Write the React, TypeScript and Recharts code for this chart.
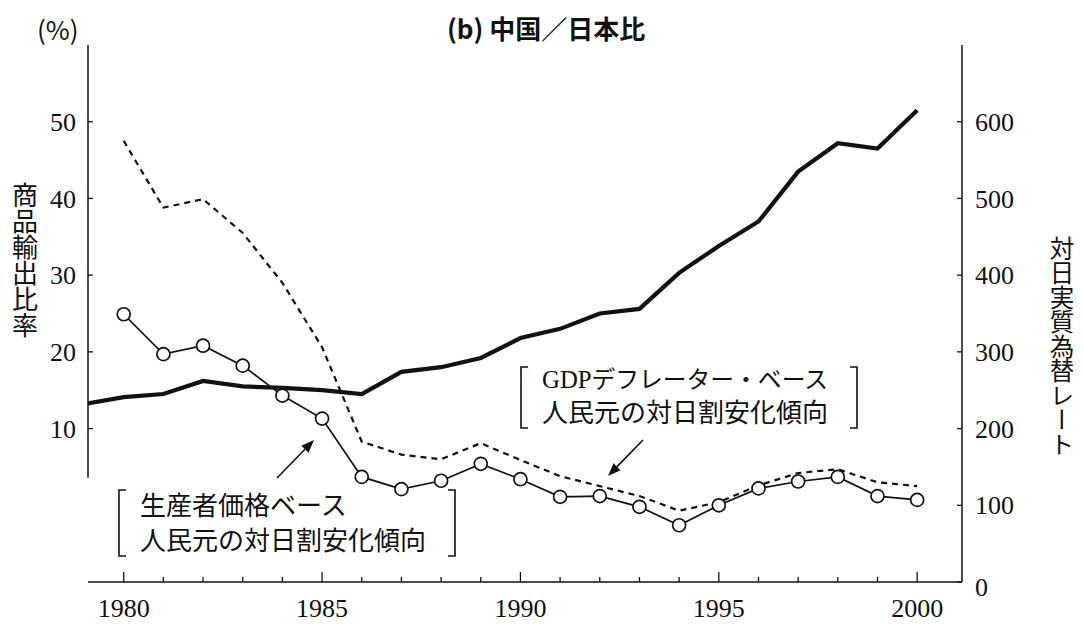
import React from 'react'
import { ComposedChart, Line, XAxis, YAxis, ReferenceLine } from 'recharts'

// 年 (1979 is only there so the thick line starts at the left axis)
const years = [1979, 1980, 1981, 1982, 1983, 1984, 1985, 1986, 1987, 1988, 1989, 1990, 1991, 1992, 1993, 1994, 1995, 1996, 1997, 1998, 1999, 2000]
// 商品輸出比率 (%), left axis
const exportRatio = [13.2, 14.1, 14.5, 16.2, 15.5, 15.3, 15.0, 14.5, 17.4, 18.0, 19.2, 21.8, 23.0, 25.0, 25.6, 30.3, 33.8, 37.0, 43.5, 47.2, 46.5, 51.5]
// 対日実質為替レート, GDPデフレーター・ベース (dashed)
const gdpDeflatorRate = [null, 575, 488, 499, 455, 390, 306, 183, 166, 160, 181, 159, 138, 125, 112, 93, 104, 126, 142, 147, 130, 125]
// 対日実質為替レート, 生産者価格ベース (circles)
const producerPriceRate = [null, 349, 297, 308, 282, 243, 213, 137, 121, 132, 154, 134, 111, 112, 98, 74, 100, 122, 131, 137, 112, 107]

const xTicks = [1980, 1981, 1982, 1983, 1984, 1985, 1986, 1987, 1988, 1989, 1990, 1991, 1992, 1993, 1994, 1995, 1996, 1997, 1998, 1999, 2000]
const leftTicks = [10, 20, 30, 40, 50]
const rightTicks = [0, 100, 200, 300, 400, 500, 600]

const data = years.map((year, i) => ({
  year,
  exportRatio: exportRatio[i],
  gdp: gdpDeflatorRate[i],
  ppi: producerPriceRate[i],
}))

const SERIF = '"Liberation Serif", "DejaVu Serif", serif'
const JP = '"Noto Sans CJK JP", "Noto Sans CJK SC", sans-serif'
const INK = '#111'

const numStyle = { fontFamily: SERIF, fontSize: 26 }

const XTick = (props: any) => {
  const { x, y, payload } = props
  const major = payload.value % 5 === 0
  return (
    <g>
      <line x1={x} x2={x} y1={y} y2={y - (major ? 10 : 5)} stroke={INK} strokeWidth={1.3} />
      {major && (
        <text x={x} y={y + 35} textAnchor="middle" style={numStyle} fill={INK}>
          {payload.value}
        </text>
      )}
    </g>
  )
}

const LeftTick = (props: any) => {
  const { x, y, payload } = props
  return (
    <g>
      <line x1={x} x2={x + 5} y1={y} y2={y} stroke={INK} strokeWidth={1.3} />
      <text x={x - 12} y={y} dy="0.35em" textAnchor="end" style={numStyle} fill={INK}>
        {payload.value}
      </text>
    </g>
  )
}

const RightTick = (props: any) => {
  const { x, y, payload } = props
  return (
    <g>
      <line x1={x - 5} x2={x} y1={y} y2={y} stroke={INK} strokeWidth={1.3} />
      <text x={x + 13} y={payload.value === 0 ? y + 5 : y} dy="0.35em" textAnchor="start" style={numStyle} fill={INK}>
        {payload.value}
      </text>
    </g>
  )
}

const Arrow = ({ x1, y1, x2, y2 }: { x1: number; y1: number; x2: number; y2: number }) => {
  const a = Math.atan2(y2 - y1, x2 - x1)
  const len = 13
  const w = 5
  const bx = x2 - len * Math.cos(a)
  const by = y2 - len * Math.sin(a)
  const p1 = `${bx + w * Math.sin(a)},${by - w * Math.cos(a)}`
  const p2 = `${bx - w * Math.sin(a)},${by + w * Math.cos(a)}`
  return (
    <g>
      <line x1={x1} y1={y1} x2={bx} y2={by} stroke={INK} strokeWidth={1.6} />
      <polygon points={`${x2},${y2} ${p1} ${p2}`} fill={INK} />
    </g>
  )
}

const Bracket = ({ x, top, bottom, dir }: { x: number; top: number; bottom: number; dir: 1 | -1 }) => (
  <path d={`M${x + dir * 7},${top} L${x},${top} L${x},${bottom} L${x + dir * 7},${bottom}`} fill="none" stroke={INK} strokeWidth={1.6} />
)

const App = () => {
  return (
    <div style={{ position: 'absolute', left: 0, top: 0, width: 1084, height: 626, background: '#fff' }}>
      <ComposedChart width={1084} height={626} data={data} margin={{ top: 45, right: 62, bottom: 4, left: 28 }}>
        <XAxis
          dataKey="year"
          type="number"
          domain={[1979.1, 2001.13]}
          allowDataOverflow
          ticks={xTicks}
          interval={0}
          tickSize={0}
          tickMargin={0}
          tick={<XTick />}
          height={40}
          axisLine={{ stroke: INK, strokeWidth: 1.5 }}
        />
        <YAxis
          yAxisId="left"
          orientation="left"
          domain={[-10, 60]}
          ticks={leftTicks}
          interval={0}
          tickSize={0}
          tickMargin={0}
          tick={<LeftTick />}
          width={60}
          axisLine={false}
        />
        <YAxis
          yAxisId="right"
          orientation="right"
          domain={[0, 700]}
          ticks={rightTicks}
          interval={0}
          tickSize={0}
          tickMargin={0}
          tick={<RightTick />}
          width={60}
          axisLine={{ stroke: INK, strokeWidth: 1.5 }}
        />
        <ReferenceLine
          yAxisId="left"
          segment={[{ x: 1979.1, y: 3.6 }, { x: 1979.1, y: 60 }]}
          stroke={INK}
          strokeWidth={1.5}
        />
        <Line
          yAxisId="left"
          dataKey="exportRatio"
          type="linear"
          stroke={INK}
          strokeWidth={4.2}
          dot={false}
          isAnimationActive={false}
        />
        <Line
          yAxisId="right"
          dataKey="gdp"
          type="linear"
          stroke={INK}
          strokeWidth={2.2}
          strokeDasharray="6 5"
          dot={false}
          isAnimationActive={false}
        />
        <Line
          yAxisId="right"
          dataKey="ppi"
          type="linear"
          stroke={INK}
          strokeWidth={1.7}
          dot={{ r: 6.5, fill: '#fff', stroke: INK, strokeWidth: 1.7 }}
          isAnimationActive={false}
        />
      </ComposedChart>

      <svg width={1084} height={626} style={{ position: 'absolute', left: 0, top: 0, pointerEvents: 'none' }}>
        <text x={37} y={40} fontFamily={JP} fontSize={26} fill={INK}>(%)</text>
        <text x={447} y={39} fontFamily={JP} fontSize={26} fontWeight={700} fill={INK}>(b) 中国／日本比</text>

        <text x={25} y={182} fontFamily={JP} fontSize={26} fill={INK} style={{ writingMode: 'vertical-rl' }}>商品輸出比率</text>
        <text x={1062} y={236} fontFamily={JP} fontSize={24.5} fill={INK} style={{ writingMode: 'vertical-rl' }}>対日実質為替レート</text>

        <Bracket x={521} top={367} bottom={428} dir={1} />
        <Bracket x={857} top={367} bottom={428} dir={-1} />
        <text x={542} y={388} fill={INK} textLength={286} lengthAdjust="spacingAndGlyphs" style={{ fontFamily: JP, fontSize: 24 }}>
          <tspan style={{ fontFamily: SERIF, fontSize: 25 }}>GDP</tspan>デフレーター・ベース
        </text>
        <text x={542} y={422} fontFamily={JP} fontSize={26} fill={INK}>人民元の対日割安化傾向</text>
        <Arrow x1={643} y1={440} x2={608} y2={476} />

        <Bracket x={119} top={490} bottom={556} dir={1} />
        <Bracket x={455} top={490} bottom={556} dir={-1} />
        <text x={140} y={515} fontFamily={JP} fontSize={26} fill={INK}>生産者価格ベース</text>
        <text x={140} y={550} fontFamily={JP} fontSize={26} fill={INK}>人民元の対日割安化傾向</text>
        <Arrow x1={277} y1={478} x2={314} y2={440} />
      </svg>
    </div>
  )
}

export default App
